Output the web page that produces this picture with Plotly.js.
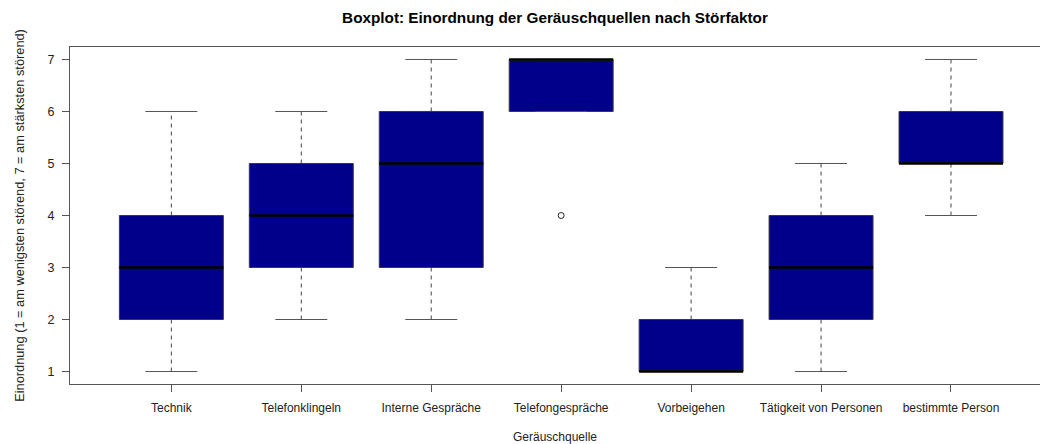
<!DOCTYPE html>
<html>
<head>
<meta charset="utf-8">
<script src="https://cdn.plot.ly/plotly-3.0.1.min.js"></script>
<style>html,body{margin:0;padding:0;background:#fff;}#chart{width:1040px;height:444px;}</style>
</head>
<body>
<div id="chart"></div>
<script>
const categories = ["Technik", "Telefonklingeln", "Interne Gespräche", "Telefongespräche", "Vorbeigehen", "Tätigkeit von Personen", "bestimmte Person"];
const lowerWhisker = [1, 2, 2, 6, 1, 1, 4];
const q1 = [2, 3, 3, 6, 1, 2, 5];
const median = [3, 4, 5, 7, 1, 3, 5];
const q3 = [4, 5, 6, 7, 2, 4, 6];
const upperWhisker = [6, 6, 7, 7, 3, 5, 7];
const outlierCategory = ["Telefongespräche"];
const outlierValue = [4];

const pos = categories.map((c, i) => i + 1);
const boxW = 0.8, capW = 0.4;

const traces = [];
// box bodies
traces.push({
  type: "box", x: pos, q1: q1, median: median, q3: q3,
  lowerfence: q1, upperfence: q3, width: boxW,
  fillcolor: "#00008B", line: {color: "#3a3a3a", width: 1},
  boxpoints: false, hoverinfo: "skip", showlegend: false
});
// dashed whiskers
const wx = [], wy = [];
pos.forEach((p, i) => {
  wx.push(p, p, null, p, p, null);
  wy.push(lowerWhisker[i], q1[i], null, q3[i], upperWhisker[i], null);
});
traces.push({type: "scatter", mode: "lines", x: wx, y: wy, line: {color: "#444", width: 1, dash: "4px,4px"}, showlegend: false, hoverinfo: "skip"});
// caps
const cx = [], cy = [];
pos.forEach((p, i) => {
  cx.push(p - capW / 2, p + capW / 2, null, p - capW / 2, p + capW / 2, null);
  cy.push(lowerWhisker[i], lowerWhisker[i], null, upperWhisker[i], upperWhisker[i], null);
});
traces.push({type: "scatter", mode: "lines", x: cx, y: cy, line: {color: "#555", width: 1}, showlegend: false, hoverinfo: "skip"});
// medians
const mx = [], my = [];
pos.forEach((p, i) => {
  mx.push(p - boxW / 2, p + boxW / 2, null);
  my.push(median[i], median[i], null);
});
traces.push({type: "scatter", mode: "lines", x: mx, y: my, line: {color: "#000", width: 2.5}, showlegend: false, hoverinfo: "skip"});
// outliers
traces.push({type: "scatter", mode: "markers",
  x: outlierCategory.map(c => categories.indexOf(c) + 1), y: outlierValue,
  marker: {symbol: "circle-open", size: 6, color: "#222", line: {width: 1}}, showlegend: false, hoverinfo: "skip"});

const font = "Liberation Sans, Arial, sans-serif";
const layout = {
  width: 1040, height: 444,
  margin: {l: 70, r: 0, t: 47, b: 60},
  paper_bgcolor: "#fff", plot_bgcolor: "#fff",
  font: {family: font, size: 12, color: "#222"},
  title: {text: "<b>Boxplot: Einordnung der Geräuschquellen nach Störfaktor</b>", font: {family: font, size: 15.3, color: "#000"},
    x: 0.5, xref: "paper", y: 1 - 18 / 444, yref: "container", yanchor: "middle"},
  xaxis: {range: [0.22, 7.685], tickvals: pos, ticktext: categories, showgrid: false, zeroline: false,
    showline: true, mirror: true, linecolor: "#555", linewidth: 1, ticks: "outside", ticklen: 7, tickcolor: "#555",
    ticklabelstandoff: 6,
    tickfont: {size: 12, color: "#222"},
    title: {text: "Geräuschquelle", font: {size: 12, color: "#222"}, standoff: 19}},
  yaxis: {range: [0.76, 7.24], tickvals: [1, 2, 3, 4, 5, 6, 7], showgrid: false, zeroline: false,
    showline: true, mirror: true, linecolor: "#555", linewidth: 1, ticks: "outside", ticklen: 7, tickcolor: "#555",
    ticklabelstandoff: 5,
    tickfont: {size: 12.5, color: "#222"},
    title: {text: "Einordnung (1 = am wenigsten störend, 7 = am stärksten störend)", font: {size: 12.8, color: "#222"}, standoff: 20}}
};
Plotly.newPlot("chart", traces, layout, {staticPlot: true, displayModeBar: false});
</script>
</body>
</html>
